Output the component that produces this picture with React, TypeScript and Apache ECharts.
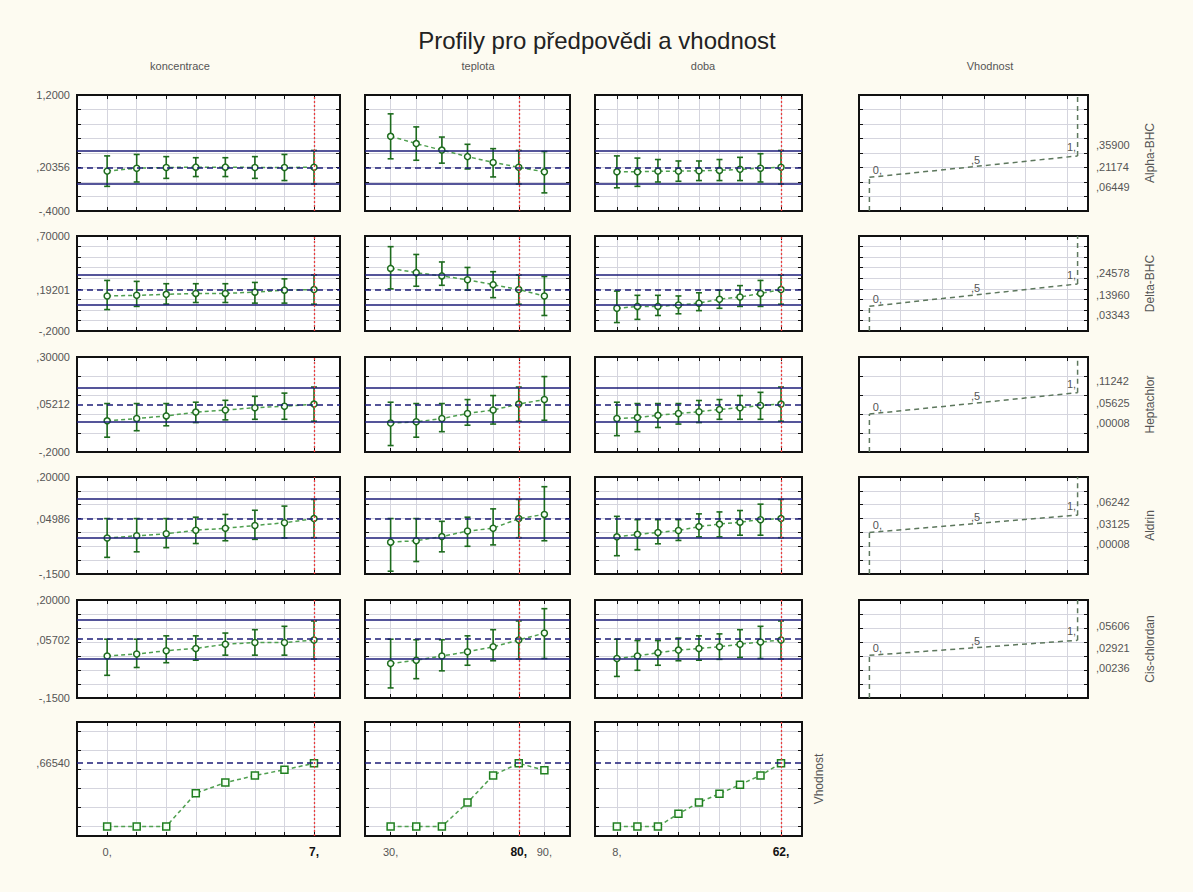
import React, { useEffect, useRef } from "react";
import * as echarts from "echarts";

// ---------- texts ----------
const chartTitle = "Profily pro předpovědi a vhodnost";
const factorNames = ["koncentrace", "teplota", "doba"];
const desirabilityHeader = "Vhodnost";
const responseNames = ["Alpha-BHC", "Delta-BHC", "Heptachlor", "Aldrin", "Cis-chlordan"];
const overallName = "Vhodnost";

// ---------- factor levels ----------
const koncentraceLevels = [0, 1, 2, 3, 4, 5, 6, 7];
const teplotaLevels = [30, 40, 50, 60, 70, 80, 90];
const dobaLevels = [8, 14.75, 21.5, 28.25, 35, 41.75, 48.5, 55.25, 62];
const currentSettings = [7, 80, 62];
const xRanges = [[-1.02, 7.88], [20, 100], [0.8, 68.9]];

const xTickLabelValues = [[0, 7], [30, 80, 90], [8, 62]];
const xTickLabelTexts = [["0,", "7,"], ["30,", "80,", "90,"], ["8,", "62,"]];

// ---------- y axes: [min, max, grid step] ----------
const yRanges = [
  [-0.4, 1.2, 0.2],
  [-0.2, 0.7, 0.1],
  [-0.2, 0.3, 0.1],
  [-0.15, 0.2, 0.05],
  [-0.15, 0.2, 0.05],
  [-0.1, 1.1, 0.2],
];
const yTickLabelValues = [
  [1.2, 0.20356, -0.4],
  [0.7, 0.19201, -0.2],
  [0.3, 0.05212, -0.2],
  [0.2, 0.04986, -0.15],
  [0.2, 0.05702, -0.15],
  [0.6654],
];
const yTickLabelTexts = [
  ["1,2000", ",20356", "-,4000"],
  [",70000", ",19201", "-,2000"],
  [",30000", ",05212", "-,2000"],
  [",20000", ",04986", "-,1500"],
  [",20000", ",05702", "-,1500"],
  [",66540"],
];

// predicted values and confidence limits at current settings
const predicted = [0.20356, 0.19201, 0.05212, 0.04986, 0.05702, 0.6654];
const upperLimit = [0.435, 0.331, 0.142, 0.119, 0.125];
const lowerLimit = [-0.028, 0.054, -0.038, -0.019, -0.011];

// ---------- profiles: [koncentrace, teplota, doba] ----------
const alphaMean = [
  [0.15, 0.19, 0.2, 0.205, 0.205, 0.2, 0.2, 0.20356],
  [0.63, 0.53, 0.44, 0.35, 0.27, 0.20356, 0.14],
  [0.14, 0.14, 0.15, 0.15, 0.155, 0.16, 0.175, 0.19, 0.20356],
];
const alphaLower = [
  [-0.06, 0.0, 0.05, 0.075, 0.075, 0.05, 0.02, -0.028],
  [0.32, 0.3, 0.26, 0.18, 0.07, -0.028, -0.15],
  [-0.08, -0.06, 0.0, 0.01, 0.02, 0.02, 0.02, 0.0, -0.028],
];
const alphaUpper = [
  [0.36, 0.38, 0.35, 0.335, 0.335, 0.35, 0.38, 0.435],
  [0.94, 0.76, 0.62, 0.52, 0.46, 0.435, 0.42],
  [0.36, 0.33, 0.31, 0.29, 0.29, 0.31, 0.34, 0.39, 0.435],
];

const deltaMean = [
  [0.132, 0.138, 0.147, 0.156, 0.156, 0.168, 0.187, 0.19201],
  [0.393, 0.353, 0.322, 0.285, 0.239, 0.19201, 0.132],
  [0.015, 0.033, 0.033, 0.046, 0.064, 0.101, 0.122, 0.156, 0.19201],
];
const deltaLower = [
  [0.003, 0.033, 0.055, 0.07, 0.07, 0.064, 0.064, 0.054],
  [0.199, 0.224, 0.233, 0.187, 0.116, 0.054, -0.053],
  [-0.12, -0.09, -0.053, -0.037, -0.007, 0.015, 0.033, 0.033, 0.054],
];
const deltaUpper = [
  [0.279, 0.27, 0.248, 0.248, 0.248, 0.26, 0.294, 0.331],
  [0.599, 0.525, 0.454, 0.402, 0.362, 0.331, 0.316],
  [0.178, 0.138, 0.138, 0.132, 0.162, 0.187, 0.23, 0.279, 0.331],
];

const heptMean = [
  [-0.036, -0.024, -0.01, 0.01, 0.021, 0.033, 0.041, 0.05212],
  [-0.048, -0.041, -0.024, 0.003, 0.021, 0.05212, 0.076],
  [-0.024, -0.019, -0.007, 0.003, 0.012, 0.024, 0.033, 0.045, 0.05212],
];
const heptLower = [
  [-0.122, -0.088, -0.062, -0.045, -0.031, -0.028, -0.028, -0.038],
  [-0.166, -0.122, -0.093, -0.059, -0.053, -0.038, -0.033],
  [-0.114, -0.093, -0.071, -0.053, -0.045, -0.028, -0.028, -0.028, -0.038],
];
const heptUpper = [
  [0.055, 0.055, 0.055, 0.062, 0.072, 0.093, 0.11, 0.142],
  [0.062, 0.055, 0.055, 0.076, 0.097, 0.142, 0.197],
  [0.062, 0.055, 0.055, 0.055, 0.071, 0.076, 0.097, 0.114, 0.142],
];

const aldrinMean = [
  [-0.02, -0.012, -0.005, 0.008, 0.015, 0.025, 0.035, 0.04986],
  [-0.035, -0.03, -0.015, 0.005, 0.015, 0.04986, 0.065],
  [-0.016, -0.007, 0.0, 0.007, 0.021, 0.03, 0.037, 0.046, 0.04986],
];
const aldrinLower = [
  [-0.09, -0.07, -0.055, -0.04, -0.03, -0.025, -0.02, -0.019],
  [-0.14, -0.105, -0.07, -0.05, -0.045, -0.019, -0.03],
  [-0.084, -0.062, -0.041, -0.029, -0.016, -0.016, -0.01, -0.01, -0.019],
];
const aldrinUpper = [
  [0.05, 0.05, 0.05, 0.055, 0.065, 0.08, 0.095, 0.119],
  [0.05, 0.05, 0.04, 0.055, 0.085, 0.119, 0.165],
  [0.058, 0.046, 0.046, 0.046, 0.067, 0.074, 0.079, 0.102, 0.119],
];

const cisMean = [
  [0.0, 0.007, 0.019, 0.027, 0.042, 0.048, 0.048, 0.05702],
  [-0.027, -0.015, 0.0, 0.015, 0.033, 0.05702, 0.082],
  [-0.009, 0.0, 0.012, 0.021, 0.027, 0.033, 0.042, 0.05, 0.05702],
];
const cisLower = [
  [-0.069, -0.041, -0.024, -0.015, 0.003, 0.003, 0.003, -0.011],
  [-0.114, -0.081, -0.053, -0.033, -0.017, -0.011, -0.009],
  [-0.073, -0.051, -0.033, -0.017, -0.015, -0.012, -0.005, -0.009, -0.011],
];
const cisUpper = [
  [0.06, 0.06, 0.072, 0.072, 0.082, 0.094, 0.106, 0.125],
  [0.06, 0.058, 0.058, 0.072, 0.094, 0.125, 0.169],
  [0.06, 0.055, 0.055, 0.064, 0.072, 0.079, 0.094, 0.106, 0.125],
];

const vhodnostProfile = [
  [0, 0, 0, 0.35, 0.462, 0.536, 0.597, 0.6654],
  [0, 0, 0, 0.252, 0.538, 0.6654, 0.592],
  [0, 0, 0, 0.134, 0.252, 0.346, 0.44, 0.538, 0.6654],
];

// ---------- desirability functions ----------
const desirLevels = [0, 0.5, 1];
const desirLevelLabels = ["0,", ",5", "1,"];
const desirResponseValues = [
  [0.06449, 0.21174, 0.359],
  [0.03343, 0.1396, 0.24578],
  [0.00008, 0.05625, 0.11242],
  [0.00008, 0.03125, 0.06242],
  [0.00236, 0.02921, 0.05606],
];
const desirResponseLabels = [
  [",06449", ",21174", ",35900"],
  [",03343", ",13960", ",24578"],
  [",00008", ",05625", ",11242"],
  [",00008", ",03125", ",06242"],
  [",00236", ",02921", ",05606"],
];
const desirXRange = [-0.05, 1.05];
const desirGridX = [0.15, 0.35, 0.55, 0.75, 0.95];

// ---------- layout ----------
const colBoxes = [[77, 263], [365, 205], [595, 207], [859, 229]];
const rowBoxes = [[95, 116], [236, 95], [357, 95], [477, 97], [600, 98], [722, 114]];

const BG = "#fdfbf1";
const BLUE = "#1c1c78";
const RED = "#e83c3c";
const GREEN_BAR = "#1d6b1d";
const GREEN_LINE = "#4f9f4f";
const GRIDC = "#d5d5de";
const LABELC = "#555";
const FONT = "Liberation Sans, Arial, sans-serif";

const levelsByFactor = [koncentraceLevels, teplotaLevels, dobaLevels];
const meanByResp = [alphaMean, deltaMean, heptMean, aldrinMean, cisMean];
const lowerByResp = [alphaLower, deltaLower, heptLower, aldrinLower, cisLower];
const upperByResp = [alphaUpper, deltaUpper, heptUpper, aldrinUpper, cisUpper];

function gridTicks(min: number, max: number, step: number) {
  const out: number[] = [];
  for (let k = Math.ceil(min / step - 1e-9); k * step < max - 1e-9; k++) {
    const v = +(k * step).toFixed(6);
    if (v > min + 1e-9) out.push(v);
  }
  return out;
}

function findLabel(vals: number[], texts: string[], v: number) {
  let best = 0;
  let d = Infinity;
  vals.forEach((a, i) => {
    if (Math.abs(a - v) < d) {
      d = Math.abs(a - v);
      best = i;
    }
  });
  return texts[best];
}

function buildOption() {
  const grid: any[] = [];
  const xAxis: any[] = [];
  const yAxis: any[] = [];
  const series: any[] = [];
  const panels: { r: number; c: number; gi: number }[] = [];

  const addGrid = (r: number, c: number, xr: number[], xticks: number[], xLabel: any, yLabel: any) => {
    const gi = grid.length;
    grid.push({
      left: colBoxes[c][0],
      top: rowBoxes[r][0],
      width: colBoxes[c][1],
      height: rowBoxes[r][1],
      show: true,
      backgroundColor: "#ffffff",
      borderColor: "#111",
      borderWidth: 2,
      containLabel: false,
    });
    const [ymin, ymax, ystep] = yRanges[r];
    const yticks = gridTicks(ymin, ymax, ystep);
    const tick = (vals: number[]) => ({
      show: true,
      inside: true,
      length: 4,
      customValues: vals,
      lineStyle: { color: "#111", width: 1 },
    });
    const noLine = { show: false, onZero: false };
    xAxis.push({
      gridIndex: gi, type: "value", min: xr[0], max: xr[1], position: "bottom",
      axisLine: noLine, axisTick: tick(xticks),
      splitLine: { show: true, lineStyle: { color: GRIDC, width: 1 } },
      axisLabel: xLabel,
    });
    xAxis.push({
      gridIndex: gi, type: "value", min: xr[0], max: xr[1], position: "top",
      axisLine: noLine, axisTick: tick(xticks),
      splitLine: { show: false }, axisLabel: { show: false },
    });
    yAxis.push({
      gridIndex: gi, type: "value", min: ymin, max: ymax, position: "left",
      axisLine: noLine, axisTick: tick(yticks),
      splitLine: { show: true, lineStyle: { color: GRIDC, width: 1 } },
      axisLabel: yLabel,
    });
    yAxis.push({
      gridIndex: gi, type: "value", min: ymin, max: ymax, position: "right",
      axisLine: noLine, axisTick: tick(yticks),
      splitLine: { show: false }, axisLabel: { show: false },
    });
    panels.push({ r, c, gi });
    return gi;
  };

  for (let r = 0; r < 6; r++) {
    for (let c = 0; c < 3; c++) {
      const levels = levelsByFactor[c];
      const xLabel =
        r === 5
          ? {
              show: true,
              customValues: xTickLabelValues[c],
              margin: 10,
              color: LABELC,
              fontSize: 11,
              fontFamily: FONT,
              formatter: (v: number) => {
                const t = findLabel(xTickLabelValues[c], xTickLabelTexts[c], v);
                return Math.abs(v - currentSettings[c]) < 1e-6 ? `{b|${t}}` : t;
              },
              rich: { b: { fontWeight: "bold", color: "#111", fontSize: 12, fontFamily: FONT } },
            }
          : { show: false };
      const yLabel =
        c === 0
          ? {
              show: true,
              customValues: yTickLabelValues[r],
              margin: 7,
              color: LABELC,
              fontSize: 11,
              fontFamily: FONT,
              showMinLabel: true,
              showMaxLabel: true,
              formatter: (v: number) => findLabel(yTickLabelValues[r], yTickLabelTexts[r], v),
            }
          : { show: false };
      const gi = addGrid(r, c, xRanges[c], levels, xLabel, yLabel);
      const xi = 2 * gi;

      const refLines: any[] = [];
      if (r < 5) {
        refLines.push({ yAxis: upperLimit[r], lineStyle: { color: BLUE, width: 1.6, type: "solid" } });
        refLines.push({ yAxis: lowerLimit[r], lineStyle: { color: BLUE, width: 1.6, type: "solid" } });
      }
      refLines.push({ yAxis: predicted[r], lineStyle: { color: BLUE, width: 1.6, type: [6, 4] } });
      series.push({
        type: "line", xAxisIndex: xi, yAxisIndex: xi, z: 2, silent: true,
        data: [[currentSettings[c], predicted[r]]], symbol: "none",
        lineStyle: { opacity: 0 },
        markLine: { silent: true, symbol: "none", label: { show: false }, animation: false, data: refLines },
      });
      series.push({
        type: "line", xAxisIndex: xi, yAxisIndex: xi, z: 6, silent: true,
        data: [[currentSettings[c], predicted[r]]], symbol: "none",
        lineStyle: { opacity: 0 },
        markLine: {
          silent: true, symbol: "none", label: { show: false }, animation: false,
          data: [{ xAxis: currentSettings[c], lineStyle: { color: RED, width: 1.3, type: [2, 2], opacity: 1 } }],
        },
      });

      if (r < 5) {
        const mean = meanByResp[r][c];
        const lo = lowerByResp[r][c];
        const hi = upperByResp[r][c];
        series.push({
          type: "custom", xAxisIndex: xi, yAxisIndex: xi, z: 3, silent: true,
          data: levels.map((x, i) => [x, lo[i], hi[i]]),
          encode: { x: 0, y: [1, 2] },
          renderItem: (params: any, api: any) => {
            const x = api.value(0);
            const p1 = api.coord([x, api.value(2)]);
            const p2 = api.coord([x, api.value(1)]);
            const cap = 3;
            const st = { stroke: GREEN_BAR, lineWidth: 1.6 };
            return {
              type: "group",
              children: [
                { type: "line", shape: { x1: p1[0], y1: p1[1], x2: p2[0], y2: p2[1] }, style: st },
                { type: "line", shape: { x1: p1[0] - cap, y1: p1[1], x2: p1[0] + cap, y2: p1[1] }, style: st },
                { type: "line", shape: { x1: p2[0] - cap, y1: p2[1], x2: p2[0] + cap, y2: p2[1] }, style: st },
              ],
            };
          },
        });
        series.push({
          type: "line", xAxisIndex: xi, yAxisIndex: xi, z: 4, silent: true,
          data: levels.map((x, i) => [x, mean[i]]),
          symbol: "circle", symbolSize: 6,
          itemStyle: { color: "#f4fff4", borderColor: GREEN_BAR, borderWidth: 1.5 },
          lineStyle: { color: GREEN_LINE, width: 1.5, type: [4, 3] },
        });
      } else {
        const prof = vhodnostProfile[c];
        series.push({
          type: "line", xAxisIndex: xi, yAxisIndex: xi, z: 4, silent: true,
          data: levels.map((x, i) => [x, prof[i]]),
          symbol: "rect", symbolSize: 7,
          itemStyle: { color: "#f4fff4", borderColor: "#1f7f1f", borderWidth: 1.5 },
          lineStyle: { color: GREEN_LINE, width: 1.5, type: [4, 3] },
        });
      }
    }
    if (r < 5) {
      const gi = addGrid(r, 3, desirXRange, desirGridX, { show: false }, { show: false });
      const xi = 2 * gi;
      const vals = desirResponseValues[r];
      const [ymin, ymax] = yRanges[r];
      const dStyle = { color: "#5d775d", width: 1.5, type: [5, 4] };
      const labelOffsets = [[8, 1], [2, 1], [-6, -1]];
      const labelStyle = { color: LABELC, fontSize: 11, fontFamily: FONT };
      series.push({
        type: "line", xAxisIndex: xi, yAxisIndex: xi, z: 4, silent: true,
        data: desirLevels.map((d, i) => ({
          value: [d, vals[i]],
          label: { offset: labelOffsets[i], ...labelStyle },
        })),
        symbol: "circle", symbolSize: 1, showSymbol: true,
        itemStyle: { color: "rgba(0,0,0,0)", borderWidth: 0 },
        lineStyle: dStyle,
        label: {
          show: true, position: "top", distance: 2,
          formatter: (p: any) => desirLevelLabels[p.dataIndex],
          ...labelStyle,
        },
      });
      series.push({
        type: "line", xAxisIndex: xi, yAxisIndex: xi, z: 4, silent: true,
        data: [[desirLevels[0], ymin], [desirLevels[0], vals[0]]],
        symbol: "none", lineStyle: dStyle,
      });
      series.push({
        type: "line", xAxisIndex: xi, yAxisIndex: xi, z: 4, silent: true,
        data: [[desirLevels[2], vals[2]], [desirLevels[2], ymax]],
        symbol: "none", lineStyle: dStyle,
      });
    }
  }

  return {
    option: {
      animation: false,
      backgroundColor: BG,
      textStyle: { fontFamily: FONT },
      grid, xAxis, yAxis, series,
    },
    panels,
  };
}

export default function App() {
  const ref = useRef<HTMLDivElement>(null);
  useEffect(() => {
    document.body.style.margin = "0";
    document.body.style.background = BG;
    if (!ref.current) return;
    const chart = echarts.init(ref.current, undefined, { renderer: "svg" });
    const { option, panels } = buildOption();
    chart.setOption(option as any);

    const graphic: any[] = [];
    graphic.push({
      type: "text", x: 597, y: 40,
      style: { text: chartTitle, fill: "#222", font: `24px ${FONT}`, align: "center", verticalAlign: "middle" },
    });
    const headerX = [180, 478, 703, 990];
    [...factorNames, desirabilityHeader].forEach((t, i) => {
      graphic.push({
        type: "text", x: headerX[i], y: 66,
        style: { text: t, fill: LABELC, font: `11px ${FONT}`, align: "center", verticalAlign: "middle" },
      });
    });
    responseNames.forEach((name, r) => {
      graphic.push({
        type: "text", x: 1150, y: rowBoxes[r][0] + rowBoxes[r][1] / 2, rotation: Math.PI / 2,
        style: { text: name, fill: LABELC, font: `12px ${FONT}`, align: "center", verticalAlign: "middle" },
      });
    });
    graphic.push({
      type: "text", x: 819, y: rowBoxes[5][0] + rowBoxes[5][1] / 2, rotation: Math.PI / 2,
      style: { text: overallName, fill: LABELC, font: `12px ${FONT}`, align: "center", verticalAlign: "middle" },
    });
    panels
      .filter((p) => p.c === 3)
      .forEach((p) => {
        const vals = desirResponseValues[p.r];
        const ys = vals.map(
          (v) => (chart.convertToPixel({ xAxisIndex: 2 * p.gi, yAxisIndex: 2 * p.gi } as any, [0, v]) as number[])[1]
        );
        const mid = ys[1];
        const pos = [Math.max(ys[0], mid + 20), mid, Math.min(ys[2], mid - 22)];
        const x = colBoxes[3][0] + colBoxes[3][1] + 8;
        vals.forEach((v, i) => {
          graphic.push({
            type: "text", x, y: pos[i],
            style: {
              text: desirResponseLabels[p.r][i], fill: LABELC, font: `11px ${FONT}`,
              align: "left", verticalAlign: "middle",
            },
          });
        });
      });
    chart.setOption({ graphic } as any);
    return () => chart.dispose();
  }, []);
  return <div ref={ref} style={{ width: 1193, height: 892 }} />;
}
